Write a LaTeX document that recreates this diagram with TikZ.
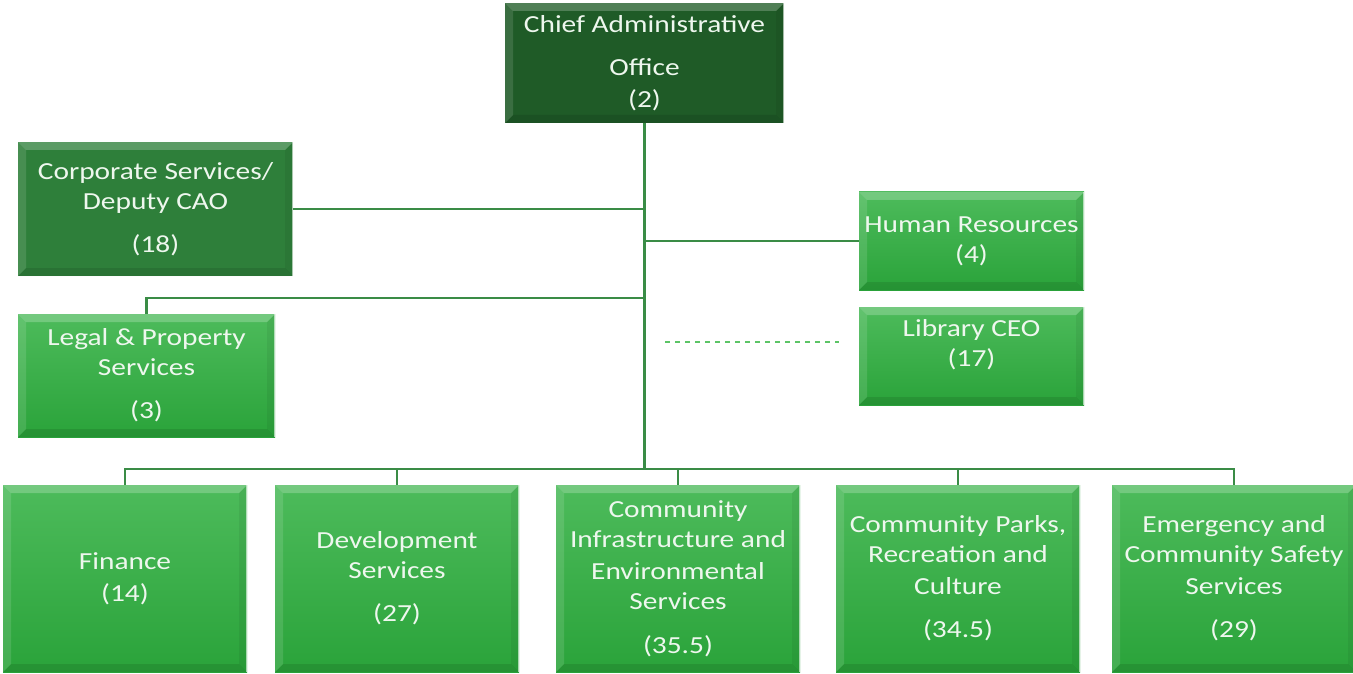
\documentclass[tikz,border=0pt]{standalone}
\usepackage{fontspec}
\setmainfont{Carlito}[FakeStretch=1.2]
\definecolor{caogreen}{HTML}{1F5B27}
\definecolor{corpgreen}{HTML}{2E7F3A}
\definecolor{toplight}{HTML}{4DBB5B}
\definecolor{botlight}{HTML}{2AA33A}
\definecolor{linegreen}{HTML}{3A8C46}
\definecolor{dashgreen}{HTML}{5CC466}
\definecolor{labeltext}{HTML}{EEF7EE}
\tikzset{
  bevel/.style={path picture={
    \fill[white,opacity=.22] (path picture bounding box.north west) -- (path picture bounding box.north east)
      -- ([shift={(-8pt,-8pt)}]path picture bounding box.north east) -- ([shift={(8pt,-8pt)}]path picture bounding box.north west) -- cycle;
    \fill[white,opacity=.12] (path picture bounding box.north west) -- (path picture bounding box.south west)
      -- ([shift={(8pt,8pt)}]path picture bounding box.south west) -- ([shift={(8pt,-8pt)}]path picture bounding box.north west) -- cycle;
    \fill[black,opacity=.06] (path picture bounding box.north east) -- (path picture bounding box.south east)
      -- ([shift={(-8pt,8pt)}]path picture bounding box.south east) -- ([shift={(-8pt,-8pt)}]path picture bounding box.north east) -- cycle;
    \fill[black,opacity=.10] (path picture bounding box.south west) -- (path picture bounding box.south east)
      -- ([shift={(-8pt,8pt)}]path picture bounding box.south east) -- ([shift={(8pt,8pt)}]path picture bounding box.south west) -- cycle;
    \draw[white,opacity=.6,line width=1.5pt] (path picture bounding box.north east) -- (path picture bounding box.south east);
  }},
  unit/.style={bevel, inner sep=0pt, align=center, text=labeltext,
    font=\fontsize{24.5}{30}\selectfont},
  darkunit/.style={unit, fill=#1},
  lightunit/.style={unit, top color=toplight, bottom color=botlight},
  conn/.style={draw=linegreen, line width=2.5pt},
  bus/.style={draw=linegreen, line width=2pt},
  dashline/.style={draw=dashgreen, line width=1.5pt, dash pattern=on 5pt off 5pt}
}
\begin{document}
\begin{tikzpicture}[x=1pt,y=1pt]
      \useasboundingbox (0,0) rectangle (1353,-674);
      \node[darkunit=caogreen, minimum width=279pt, minimum height=120pt] (cao) at (644.5,-63)
        {Chief Administrative\\[13pt]Office\\[2pt](2)};
      \node[darkunit=corpgreen, minimum width=275pt, minimum height=134pt] (corp) at (155.5,-209)
        {Corporate Services/\\Deputy CAO\\[13pt](18)};
      \node[lightunit, minimum width=225pt, minimum height=98pt] (hr) at (971.5,-241)
        {Human Resources\\(4)};
      \node[lightunit, minimum width=225pt, minimum height=98pt, text depth=26pt] (lib) at (971.5,-356)
        {Library CEO\\(17)};
      \node[lightunit, minimum width=257pt, minimum height=123pt] (legal) at (146.5,-375.5)
        {Legal \& Property\\Services\\[13pt](3)};
      \node[lightunit, minimum width=244pt, minimum height=187pt] (fin) at (125,-578.5)
        {Finance\\[2pt](14)};
      \node[lightunit, minimum width=244pt, minimum height=187pt] (dev) at (397,-578.5)
        {Development\\Services\\[13pt](27)};
      \node[lightunit, minimum width=244pt, minimum height=187pt] (cies) at (678,-578.5)
        {Community\\Infrastructure and\\[2pt]Environmental\\Services\\[14pt](35.5)};
      \node[lightunit, minimum width=244pt, minimum height=187pt] (parks) at (958,-578.5)
        {Community Parks,\\Recreation and\\[2pt]Culture\\[13pt](34.5)};
      \node[lightunit, minimum width=244pt, minimum height=187pt] (emerg) at (1234,-578.5)
        {Emergency and\\Community Safety\\[2pt]Services\\[13pt](29)};
      \coordinate (bus) at (cao.south |- 0,-469);
      \coordinate (legj) at (cao.south |- 0,-298);
      \coordinate (dashl) at (665,-342);
      \coordinate (dashr) at (839,-342);
      \begin{scope}[conn]
        \draw (cao.south) -- (bus);
        \draw (corp.east) -- (corp.east -| cao.south);
        \draw (hr.west) -- (hr.west -| cao.south);
        \draw (legj) -| (legal.north);
      \end{scope}
      \foreach \n in {fin,dev,cies,parks,emerg}
        \draw[bus] (\n.north) |- (bus);
      \draw[dashline] (dashl) -- (dashr);
    \end{tikzpicture}
\end{document}
